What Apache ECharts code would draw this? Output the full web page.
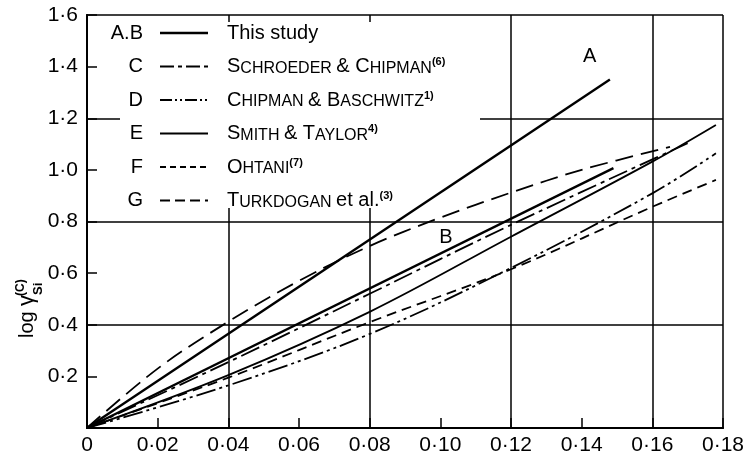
<!DOCTYPE html>
<html>
<head>
<meta charset="utf-8">
<script src="https://cdn.jsdelivr.net/npm/echarts@6/dist/echarts.min.js"></script>
<style>
  html, body { margin: 0; padding: 0; background: #fff; }
  #chart { width: 747px; height: 459px; }
</style>
</head>
<body>
<div id="chart"></div>
<script>
const FONT = '"Liberation Sans", Arial, sans-serif'

const xTickLabels = ['0', '0·02', '0·04', '0·06', '0·08', '0·10', '0·12', '0·14', '0·16', '0·18']
const yTickLabels = ['', '0·2', '0·4', '0·6', '0·8', '1·0', '1·2', '1·4', '1·6']

// [wt% C, log gamma]
const seriesA = [[0, 0], [0.148, 1.35]]
const seriesB = [[0, 0], [0.149, 1.007]]
const seriesC = [[0, 0], [0.04, 0.255], [0.08, 0.52], [0.12, 0.787], [0.17, 1.103]]
const seriesD = [[0, 0], [0.04, 0.165], [0.08, 0.364], [0.12, 0.62], [0.16, 0.909], [0.178, 1.064]]
const seriesE = [[0, 0], [0.04, 0.205], [0.08, 0.45], [0.12, 0.741], [0.16, 1.032], [0.178, 1.174]]
const seriesF = [[0, 0], [0.04, 0.195], [0.08, 0.41], [0.12, 0.615], [0.16, 0.857], [0.178, 0.961]]
const seriesG = [[0, 0], [0.02, 0.23], [0.04, 0.412], [0.06, 0.57], [0.08, 0.705], [0.10, 0.815], [0.12, 0.912], [0.14, 1.0], [0.165, 1.089]]

const dashC = [20, 5, 4, 5]
const dashD = [20, 4, 3, 4, 3, 4]
const dashF = [10, 6]
const dashG = [18, 8]

const legendKeys = ['A.B', 'C', 'D', 'E', 'F', 'G']
const legendNames = [
  '{n|This study}',
  '{c|S}{s|CHROEDER }{c|& C}{s|HIPMAN}{sup|(6)}',
  '{c|C}{s|HIPMAN }{c|& B}{s|ASCHWITZ}{sup|1)}',
  '{c|S}{s|MITH }{c|& T}{s|AYLOR}{sup|4)}',
  '{c|O}{s|HTANI}{sup|(7)}',
  '{c|T}{s|URKDOGAN }{n|et al.}{sup|(3)}'
]
const legendDashes = ['solid', [14, 4, 4, 4], [12, 3, 2, 3, 2, 3], 'solid', [6, 4], [10, 5]]

function lineSeries(name, data, dash, width, smooth) {
  return {
    name,
    type: 'line',
    data,
    symbol: 'none',
    smooth: smooth ? 0.35 : false,
    silent: true,
    lineStyle: { color: '#000', width, type: dash, cap: 'butt' }
  }
}

function curveLabel(text, coord) {
  return {
    symbolSize: 1,
    itemStyle: { color: 'transparent' },
    label: { show: true, formatter: text, color: '#000', fontSize: 20, fontFamily: FONT },
    data: [{ coord }]
  }
}

const seriesList = [
  lineSeries('A', seriesA, 'solid', 2.4, false),
  lineSeries('B', seriesB, 'solid', 2.4, false),
  lineSeries('C', seriesC, dashC, 1.8, true),
  lineSeries('D', seriesD, dashD, 1.8, true),
  lineSeries('E', seriesE, 'solid', 1.8, true),
  lineSeries('F', seriesF, dashF, 1.8, true),
  lineSeries('G', seriesG, dashG, 1.8, true)
]
seriesList[0].markPoint = curveLabel('A', [0.1423, 1.437])
seriesList[1].markPoint = curveLabel('B', [0.1016, 0.736])

const richLegend = {
  n: { fontSize: 20, lineHeight: 20, verticalAlign: 'bottom', fontFamily: FONT, color: '#000' },
  c: { fontSize: 20, lineHeight: 20, verticalAlign: 'bottom', fontFamily: FONT, color: '#000' },
  s: { fontSize: 16, lineHeight: 16, verticalAlign: 'bottom', fontFamily: FONT, color: '#000' },
  sup: { fontSize: 11, lineHeight: 11, verticalAlign: 'top', fontFamily: FONT, color: '#000', fontWeight: 'bold' }
}

const legendGraphics = [{
  type: 'rect', z: 1, silent: true,
  shape: { x: 120, y: 22, width: 360, height: 186 },
  style: { fill: '#fff' }
}]
legendKeys.forEach((key, i) => {
  const y = 33 + i * 33.5
  legendGraphics.push({
    type: 'text', z: 3, silent: true, x: 143, y,
    style: { text: key, fill: '#000', font: '20px ' + FONT, align: 'right', verticalAlign: 'middle' }
  })
  legendGraphics.push({
    type: 'line', z: 3, silent: true,
    shape: { x1: 160, y1: y, x2: 208, y2: y },
    style: { stroke: '#000', lineWidth: i === 0 ? 2.4 : 1.8, lineDash: legendDashes[i] === 'solid' ? null : legendDashes[i] }
  })
  legendGraphics.push({
    type: 'text', z: 3, silent: true, x: 227, y,
    style: { text: legendNames[i], rich: richLegend, align: 'left', verticalAlign: 'middle' }
  })
})

const yTitle = {
  type: 'group', x: 27, y: 338, rotation: Math.PI / 2, silent: true,
  children: [
    { type: 'text', x: 0, y: 0, style: { text: 'log', font: '20px ' + FONT, fill: '#000', verticalAlign: 'middle' } },
    { type: 'text', x: 32, y: 0, style: { text: 'γ', font: '22px ' + FONT, fill: '#000', verticalAlign: 'middle' } },
    { type: 'text', x: 43, y: 11, style: { text: 'Si', font: 'bold 13px ' + FONT, fill: '#000', verticalAlign: 'middle' } },
    { type: 'text', x: 42, y: -6, style: { text: '(C)', font: 'bold 12px ' + FONT, fill: '#000', verticalAlign: 'middle' } }
  ]
}

const chart = echarts.init(document.getElementById('chart'), null, { renderer: 'canvas' })
chart.setOption({
  backgroundColor: '#fff',
  animation: false,
  grid: { left: 87, right: 15, top: 15, bottom: 31 },
  xAxis: [{
    type: 'value', min: 0, max: 0.18, interval: 0.02, position: 'bottom',
    axisLine: { show: true, lineStyle: { color: '#000', width: 2 } },
    axisTick: { show: true, inside: true, length: 10, lineStyle: { color: '#000', width: 1.5 } },
    axisLabel: {
      margin: 7, color: '#000', fontSize: 21, fontFamily: FONT,
      formatter: v => xTickLabels[Math.round(v / 0.02)]
    },
    splitLine: { show: false }
  }, {
    type: 'value', min: 0, max: 0.18, interval: 0.04, position: 'top',
    axisLine: { show: true, lineStyle: { color: '#000', width: 2 } },
    axisTick: { show: false }, axisLabel: { show: false },
    splitLine: { show: true, lineStyle: { color: '#000', width: 1.5 } }
  }],
  yAxis: [{
    type: 'value', min: 0, max: 1.6, interval: 0.2, position: 'left',
    axisLine: { show: true, lineStyle: { color: '#000', width: 2 } },
    axisTick: { show: true, inside: true, length: 10, lineStyle: { color: '#000', width: 1.5 } },
    axisLabel: {
      margin: 9, color: '#000', fontSize: 21, fontFamily: FONT, showMinLabel: false,
      formatter: v => yTickLabels[Math.round(v / 0.2)]
    },
    splitLine: { show: false }
  }, {
    type: 'value', min: 0, max: 1.6, interval: 0.4, position: 'right',
    axisLine: { show: true, lineStyle: { color: '#000', width: 2 } },
    axisTick: { show: false }, axisLabel: { show: false },
    splitLine: { show: true, lineStyle: { color: '#000', width: 1.5 } }
  }],
  graphic: legendGraphics.concat([yTitle]),
  series: seriesList
})
</script>
</body>
</html>
